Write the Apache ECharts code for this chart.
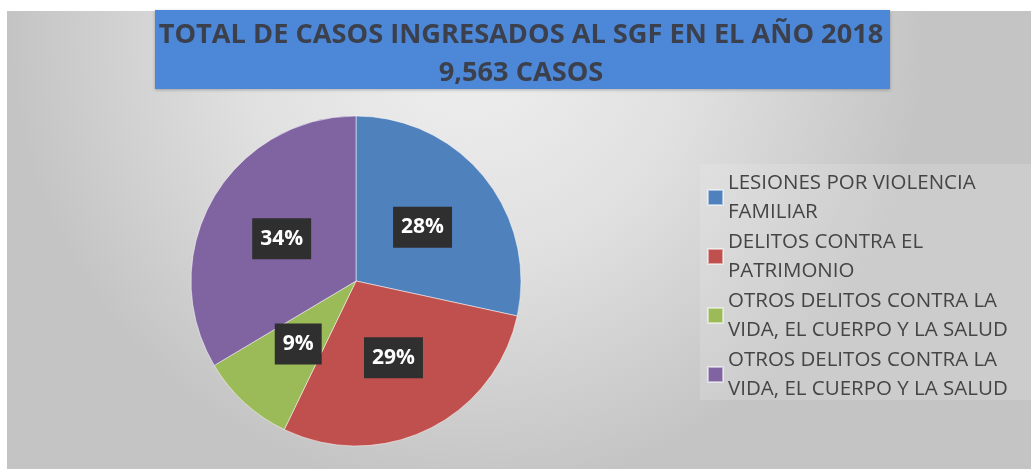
<!DOCTYPE html>
<html>
<head>
<meta charset="utf-8">
<script src="https://cdn.jsdelivr.net/npm/echarts@6/dist/echarts.min.js"></script>
<style>
    html, body { margin: 0; padding: 0; background: #fff; }
    #chart { width: 1031px; height: 469px; }
</style>
</head>
<body>
<div id="chart"></div>
<script>
// categorias del grafico
const categories = [
    'LESIONES POR VIOLENCIA\nFAMILIAR',
    'DELITOS CONTRA EL\nPATRIMONIO',
    'OTROS DELITOS CONTRA LA\nVIDA, EL CUERPO Y LA SALUD',
    'OTROS DELITOS CONTRA LA\nVIDA, EL CUERPO Y LA SALUD'
]
// casos estimados (total 9,563)
const cases = [2716, 2750, 889, 3208]
const colors = ['#4f81bd', '#c0504d', '#9bbb59', '#8064a2']
const titleLines = ['TOTAL DE CASOS INGRESADOS AL SGF EN EL AÑO 2018', '9,563 CASOS']

let myChart = echarts.init(document.getElementById('chart'))

// nombres unicos para la leyenda (hay dos categorias iguales)
const pieData = cases.map((v, i) => ({
    name: 'k' + i,
    value: v,
    itemStyle: { color: colors[i] }
}))

myChart.setOption({
    animation: false,
    graphic: [
        { // fondo gris con degradado
            type: 'rect',
            z: -10,
            shape: { x: 7, y: 11, width: 1024, height: 458 },
            style: {
                fill: {
                    type: 'radial', x: 0.45, y: 0.05, r: 1.0,
                    colorStops: [
                        { offset: 0, color: '#f0f0f0' },
                        { offset: 0.5, color: '#e0e0e0' },
                        { offset: 1, color: '#c4c4c4' }
                    ]
                }
            }
        },
        { // caja del titulo
            type: 'rect',
            z: -5,
            shape: { x: 155, y: 10, width: 735, height: 79 },
            style: { fill: '#4d88d8', shadowColor: 'rgba(0,0,0,0.25)', shadowBlur: 3, shadowOffsetY: 1 }
        },
        { // fondo de la leyenda
            type: 'rect',
            z: -5,
            shape: { x: 700, y: 164, width: 331, height: 236 },
            style: { fill: 'rgba(245,245,245,0.18)' }
        }
    ],
    title: {
        text: titleLines.join('\n'),
        left: 516,
        textAlign: 'center',
        top: 11,
        textStyle: {
            fontFamily: 'Open Sans',
            fontSize: 27.2,
            fontWeight: 'bold',
            color: '#3b404c',
            lineHeight: 38
        }
    },
    legend: {
        orient: 'vertical',
        left: 702,
        top: 163,
        itemWidth: 15,
        itemHeight: 15,
        itemGap: 0,
        icon: 'rect',
        formatter: name => categories[+name.slice(1)],
        textStyle: {
            fontFamily: 'Open Sans',
            fontSize: 20.5,
            color: '#454545',
            lineHeight: 29.5
        }
    },
    series: [{
        type: 'pie',
        center: [356, 281],
        radius: 165,
        startAngle: 90,
        clockwise: true,
        data: pieData,
        itemStyle: {
            borderColor: 'rgba(255,255,255,0.5)',
            borderWidth: 1
        },
        label: {
            position: 'inside',
            formatter: p => Math.round(p.percent) + '%',
            fontFamily: 'Open Sans',
            fontSize: 21,
            fontWeight: 'bold',
            color: '#fff',
            backgroundColor: '#2f2f2f',
            padding: [10, 8]
        },
        labelLine: { show: false },
        emphasis: { disabled: true }
    }]
})

window.addEventListener('resize', function () {
    myChart.resize()
})
</script>
</body>
</html>
